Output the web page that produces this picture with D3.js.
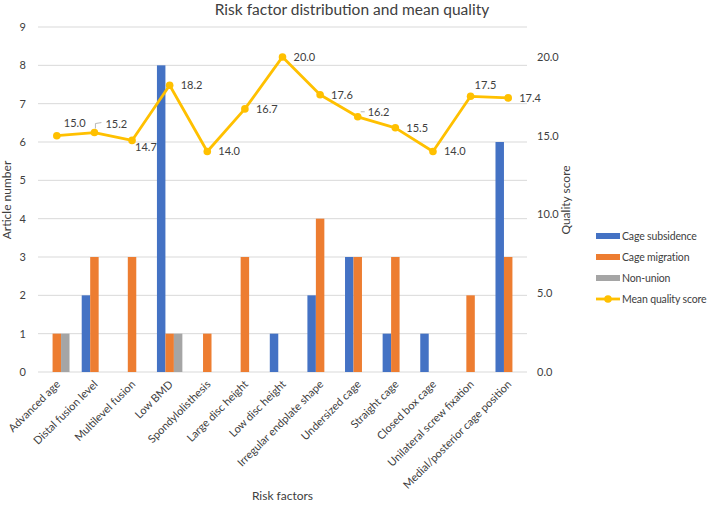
<!DOCTYPE html>
<html>
<head>
<meta charset="utf-8">
<script src="https://cdn.jsdelivr.net/npm/d3@7"></script>
<style>
  body { margin: 0; background: #fff; }
  text { font-family: Lato, "Open Sans", sans-serif; fill: #404040; }
</style>
</head>
<body>
<svg id="chart" width="710" height="505"></svg>
<script>
const categories = ["Advanced age", "Distal fusion level", "Multilevel fusion", "Low BMD", "Spondylolisthesis",
  "Large disc height", "Low disc height", "Irregular endplate shape", "Undersized cage", "Straight cage",
  "Closed box cage", "Unilateral screw fixation", "Medial/posterior cage position"];
const cageSubsidence = [0, 2, 0, 8, 0, 0, 1, 2, 3, 1, 1, 0, 6];
const cageMigration = [1, 3, 3, 1, 1, 3, 0, 4, 3, 3, 0, 2, 3];
const nonUnion = [1, 0, 0, 1, 0, 0, 0, 0, 0, 0, 0, 0, 0];
const meanQuality = [15.0, 15.2, 14.7, 18.2, 14.0, 16.7, 20.0, 17.6, 16.2, 15.5, 14.0, 17.5, 17.4];
const leftTicks = [0, 1, 2, 3, 4, 5, 6, 7, 8, 9];
const rightTicks = [0, 5, 10, 15, 20];
// where each quality label sits relative to its point
const labelPlace = ["aboveRight", "leader", "belowRight", "right", "right", "right", "right",
  "right", "leaderSide", "right", "right", "above", "right"];

const svg = d3.select("#chart");
const m = { left: 38, right: 527, top: 27, bottom: 372 };

const x = d3.scaleBand().domain(categories).range([m.left, m.right]).paddingInner(0).paddingOuter(0);
const inner = d3.scaleBand().domain([0, 1, 2]).range([0, x.bandwidth()]).paddingInner(0).paddingOuter(0.72);
const yL = d3.scaleLinear().domain([0, 9]).range([m.bottom, m.top]);
const yR = d3.scaleLinear().domain([0, 21.9]).range([m.bottom, m.top]);

// gridlines
svg.append("g").selectAll("line").data(leftTicks).join("line")
  .attr("x1", m.left).attr("x2", m.right)
  .attr("y1", d => yL(d)).attr("y2", d => yL(d))
  .attr("stroke", "#d9d9d9").attr("stroke-width", 1);

// left axis
const axL = svg.append("g").attr("transform", `translate(${m.left},0)`)
  .call(d3.axisLeft(yL).tickValues(leftTicks).tickSize(0).tickPadding(12));
axL.select(".domain").remove();
axL.selectAll("text").style("font-size", "11px").attr("fill", "#404040");

// right axis
const axR = svg.append("g").attr("transform", `translate(${m.right},0)`)
  .call(d3.axisRight(yR).tickValues(rightTicks).tickFormat(d3.format(".1f")).tickSize(0).tickPadding(10));
axR.select(".domain").remove();
axR.selectAll("text").style("font-size", "11px").attr("fill", "#404040");

// bars
const series = [
  { name: "Cage subsidence", values: cageSubsidence, color: "#4472c4" },
  { name: "Cage migration", values: cageMigration, color: "#ed7d31" },
  { name: "Non-union", values: nonUnion, color: "#a5a5a5" }
];
series.forEach((s, i) => {
  svg.append("g").selectAll("rect").data(s.values).join("rect")
    .attr("x", (d, j) => x(categories[j]) + inner(i))
    .attr("width", inner.bandwidth())
    .attr("y", d => yL(d))
    .attr("height", d => yL(0) - yL(d))
    .attr("fill", s.color);
});

// x labels
const ax = svg.append("g").attr("transform", `translate(0,${m.bottom})`)
  .call(d3.axisBottom(x).tickSize(0).tickPadding(0));
ax.select(".domain").remove();
ax.selectAll("text")
  .style("font-size", "11px").attr("fill", "#404040")
  .attr("text-anchor", "end")
  .attr("dy", 0)
  .attr("transform", "translate(4,13) rotate(-45)");

// line
const cx = (d, j) => x(categories[j]) + x.bandwidth() / 2;
const line = d3.line().x(cx).y(d => yR(d));
svg.append("path").datum(meanQuality)
  .attr("d", line).attr("fill", "none")
  .attr("stroke", "#ffc000").attr("stroke-width", 2.8).attr("stroke-linejoin", "round");
svg.append("g").selectAll("circle").data(meanQuality).join("circle")
  .attr("cx", cx).attr("cy", d => yR(d)).attr("r", 3.8).attr("fill", "#ffc000");

// data labels
const offs = {
  right: [11, 4], aboveRight: [7, -9], belowRight: [3, 11], above: [4, -7],
  leader: [11, -5], leaderSide: [10, -1]
};
svg.append("g").selectAll("text").data(meanQuality).join("text")
  .attr("x", (d, j) => cx(d, j) + offs[labelPlace[j]][0])
  .attr("y", d => yR(d))
  .attr("dy", (d, j) => offs[labelPlace[j]][1])
  .style("font-size", "11px")
  .text(d => d3.format(".1f")(d));
// leader lines for the crowded labels
meanQuality.forEach((d, j) => {
  const px = cx(d, j), py = yR(d);
  let path = null;
  if (labelPlace[j] === "leader") path = `M${px + 1},${py - 4} L${px + 1},${py - 9} L${px + 7},${py - 10}`;
  if (labelPlace[j] === "leaderSide") path = `M${px + 3},${py - 5} L${px + 7},${py - 5}`;
  if (!path) return;
  svg.append("path").attr("d", path)
    .attr("fill", "none").attr("stroke", "#a6a6a6").attr("stroke-width", 0.8);
});

// titles
svg.append("text").attr("x", 352).attr("y", 15).attr("text-anchor", "middle")
  .style("font-size", "15.5px").text("Risk factor distribution and mean quality");
svg.append("text").attr("transform", "translate(11,200) rotate(-90)").attr("text-anchor", "middle")
  .style("font-size", "12px").text("Article number");
svg.append("text").attr("transform", "translate(570,200) rotate(-90)").attr("text-anchor", "middle")
  .style("font-size", "12px").text("Quality score");
svg.append("text").attr("x", (m.left + m.right) / 2).attr("y", 500).attr("text-anchor", "middle")
  .style("font-size", "12px").text("Risk factors");

// legend
const legendItems = series.map(s => ({ name: s.name, color: s.color, type: "bar" }))
  .concat([{ name: "Mean quality score", color: "#ffc000", type: "line" }]);
const lg = svg.append("g").attr("transform", "translate(596,236)");
legendItems.forEach((it, i) => {
  const g = lg.append("g").attr("transform", `translate(0,${i * 21})`);
  if (it.type === "bar") {
    g.append("rect").attr("x", 0).attr("y", -3).attr("width", 24).attr("height", 6).attr("fill", it.color);
  } else {
    g.append("line").attr("x1", 0).attr("x2", 24).attr("y1", 0).attr("y2", 0)
      .attr("stroke", it.color).attr("stroke-width", 2.8);
    g.append("circle").attr("cx", 12).attr("cy", 0).attr("r", 3.8).attr("fill", it.color);
  }
  g.append("text").attr("x", 26).attr("y", 0).attr("dy", "0.35em")
    .style("font-size", "10.5px").style("letter-spacing", "-0.15px").text(it.name);
});
</script>
</body>
</html>
